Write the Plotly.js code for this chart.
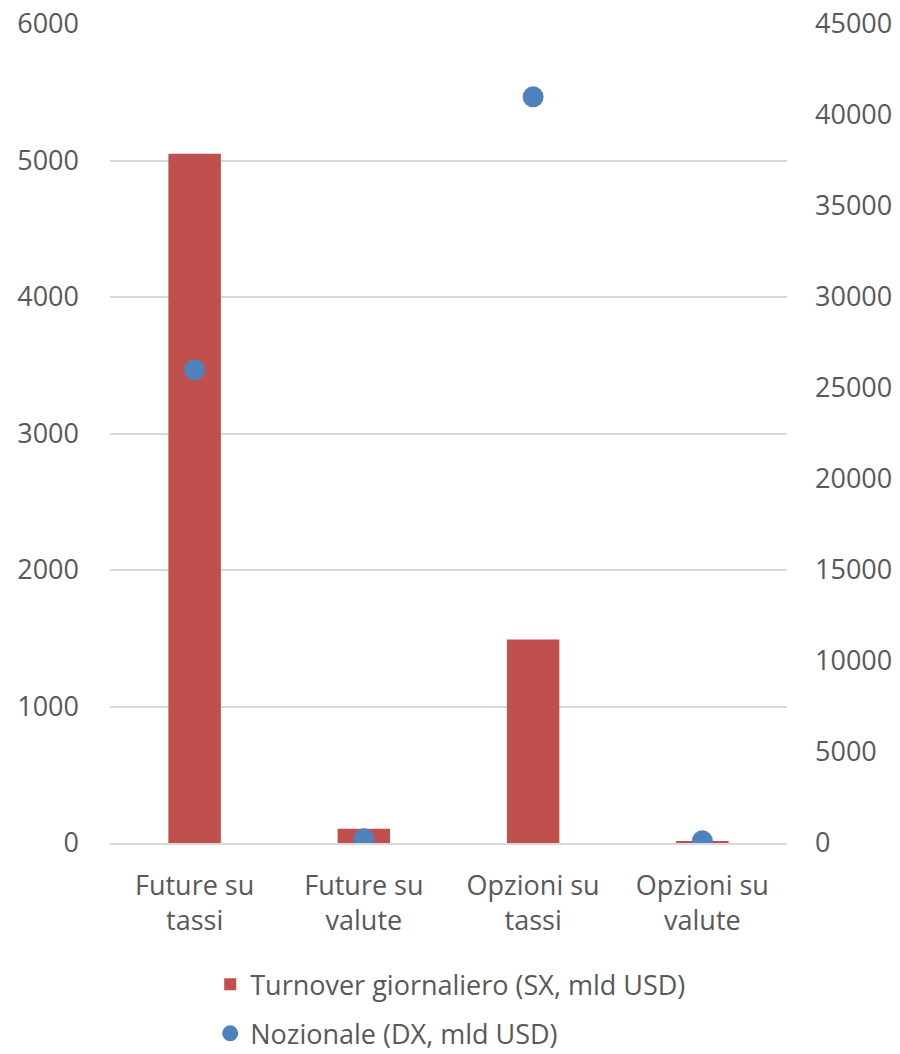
<!DOCTYPE html>
<html><head><meta charset="utf-8">
<script src="https://cdn.plot.ly/plotly-3.0.1.min.js"></script>
<style>body{margin:0;background:#fff}#chart{width:900px;height:1054px}</style>
</head><body><div id="chart"></div>
<script>
const categories = ["Future su<br>tassi", "Future su<br>valute", "Opzioni su<br>tassi", "Opzioni su<br>valute"];
const turnover = [5050, 105, 1490, 10];
const nozionale = [26000, 230, 41000, 120];
const leftTicks = [0, 1000, 2000, 3000, 4000, 5000, 6000];
const rightTicks = [0, 5000, 10000, 15000, 20000, 25000, 30000, 35000, 40000, 45000];

const font = {family: "Open Sans, Lato, sans-serif", size: 27, color: "#595959"};

const traces = [
  {type: "bar", x: categories, y: turnover, name: "Turnover giornaliero (SX, mld USD)",
   marker: {color: "#C0504D"}, legendgroup: "a", yaxis: "y"},
  {type: "scatter", mode: "markers", x: categories, y: nozionale, name: "Nozionale (DX, mld USD)",
   marker: {color: "#4F81BD", size: 21}, legendgroup: "b", yaxis: "y2"}
];

const layout = {
  width: 900, height: 1054,
  margin: {l: 110, r: 113, t: 24, b: 211, autoexpand: false},
  paper_bgcolor: "#fff", plot_bgcolor: "#fff",
  font: font,
  bargap: 0.69,
  showlegend: true,
  legend: {x: 0.148, xanchor: "left", yref: "container", y: 0.089, yanchor: "top", orientation: "v",
           traceorder: "grouped", tracegroupgap: 11, font: font},
  xaxis: {type: "category", showgrid: false, showline: true, linecolor: "#d9d9d9", linewidth: 1.5,
          ticks: "", tickfont: font, ticklabelstandoff: 18, automargin: false},
  yaxis: {range: [0, 6000], tickvals: leftTicks, ticktext: leftTicks.map(String),
          showgrid: true, gridcolor: "#d9d9d9", gridwidth: 1.5, zeroline: false,
          showline: false, ticks: "", tickfont: font, ticklabelstandoff: 30, automargin: false},
  yaxis2: {range: [0, 45000], tickvals: rightTicks, ticktext: rightTicks.map(String),
           overlaying: "y", side: "right", showgrid: false, zeroline: false,
           showline: false, ticks: "", tickfont: font, ticklabelstandoff: 27, automargin: false}
};

Plotly.newPlot("chart", traces, layout, {displayModeBar: false});
</script></body></html>
